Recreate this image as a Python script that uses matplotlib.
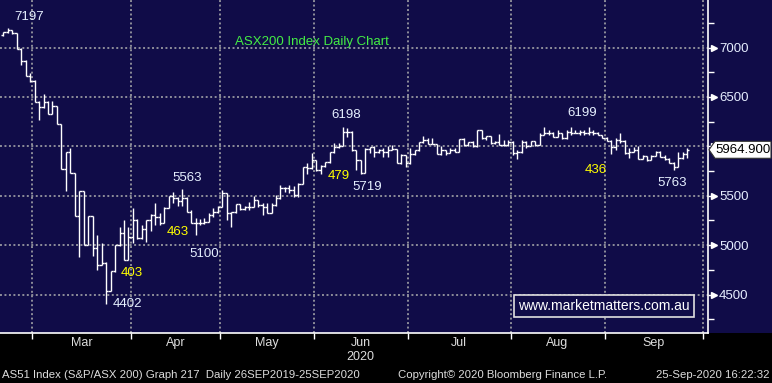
import matplotlib
matplotlib.use("Agg")
import matplotlib.pyplot as plt
from matplotlib.collections import LineCollection
from matplotlib.patches import Rectangle, Polygon
import matplotlib.transforms as mtransforms

# ASX200 daily bars, 20 Feb 2020 - 25 Sep 2020
opens = [7126, 7154, 7177, 7145, 6985, 6866, 6715, 6665, 6451, 6395,
         6451, 6330, 6408, 6226, 5767, 5940, 5727, 5295, 5545, 5001,
         5290, 4968, 4799, 4822, 4539, 4735, 4998, 5120, 4849, 5085,
         5254, 5069, 5160, 5250, 5300, 5288, 5227, 5379, 5497, 5474,
         5450, 5474, 5338, 5221, 5221, 5221, 5238, 5305, 5338, 5389,
         5524, 5322, 5338, 5413, 5370, 5389, 5389, 5457, 5406, 5389,
         5328, 5406, 5474, 5574, 5574, 5558, 5507, 5619, 5794, 5777,
         5862, 5760, 5800, 5844, 5940, 5996, 6003, 6148, 6148, 5963,
         5862, 5727, 5970, 5990, 5946, 5963, 5946, 5963, 5970, 5828,
         5912, 5828, 5920, 5960, 6047, 6063, 6023, 6023, 5925, 5963,
         5930, 5963, 5946, 6071, 6013, 6047, 6003, 6165, 6081, 6104,
         6030, 6047, 6013, 6013, 6047, 5929, 5946, 6047, 6003, 6054,
         6013, 6115, 6132, 6138, 6097, 6132, 6081, 6148, 6138, 6132,
         6148, 6132, 6148, 6132, 6115, 6087, 6054, 5990, 6064, 6050,
         5930, 5946, 5963, 5869, 5902, 5862, 5902, 5946, 5889, 5869,
         5835, 5790, 5880, 5920]
highs = [7160, 7197, 7180, 7150, 6990, 6870, 6745, 6670, 6455, 6529,
         6455, 6460, 6410, 6230, 5946, 5980, 5730, 5548, 5548, 5295,
         5295, 5100, 5017, 4825, 4738, 5001, 5187, 5254, 5187, 5375,
         5262, 5200, 5254, 5310, 5423, 5325, 5389, 5497, 5541, 5490,
         5563, 5490, 5355, 5270, 5265, 5272, 5328, 5373, 5396, 5558,
         5524, 5340, 5413, 5415, 5396, 5440, 5497, 5460, 5423, 5423,
         5423, 5507, 5609, 5591, 5609, 5600, 5626, 5794, 5834, 5929,
         5865, 5811, 5844, 5946, 6037, 6030, 6198, 6182, 6150, 5965,
         5865, 5980, 5996, 6006, 5970, 5980, 6003, 6013, 5975, 5920,
         5915, 5980, 5963, 6047, 6104, 6081, 6081, 6025, 6003, 5965,
         5980, 5987, 6071, 6081, 6047, 6050, 6165, 6168, 6104, 6106,
         6054, 6124, 6063, 6063, 6050, 5963, 6063, 6049, 6054, 6056,
         6132, 6192, 6165, 6140, 6165, 6134, 6165, 6199, 6165, 6165,
         6165, 6195, 6165, 6140, 6117, 6090, 6064, 6081, 6132, 6060,
         5980, 5990, 6003, 5912, 5904, 5912, 5956, 5956, 5912, 5879,
         5840, 5946, 5946, 5985]
lows = [7120, 7150, 7140, 6980, 6820, 6710, 6654, 6450, 6266, 6390,
        6324, 6325, 6226, 5767, 5548, 5727, 5295, 4883, 5001, 4998,
        4890, 4748, 4795, 4402, 4535, 4730, 4995, 4849, 4845, 5020,
        5060, 5065, 5035, 5140, 5200, 5200, 5220, 5375, 5430, 5400,
        5400, 5338, 5221, 5100, 5204, 5215, 5235, 5288, 5322, 5385,
        5254, 5180, 5322, 5355, 5355, 5355, 5385, 5389, 5305, 5328,
        5325, 5400, 5470, 5541, 5524, 5490, 5490, 5615, 5720, 5775,
        5750, 5720, 5795, 5828, 5935, 5980, 6000, 6097, 5956, 5760,
        5719, 5725, 5936, 5895, 5936, 5895, 5895, 5960, 5828, 5825,
        5787, 5825, 5915, 5955, 6030, 6023, 6020, 5925, 5912, 5912,
        5928, 5940, 5944, 6003, 6003, 5996, 5996, 6071, 6063, 6023,
        6028, 6013, 6003, 6006, 5912, 5870, 5929, 5980, 6000, 6003,
        6010, 6113, 6115, 6097, 6095, 6071, 6079, 6115, 6132, 6115,
        6115, 6115, 6115, 6115, 6087, 6054, 5922, 5963, 6030, 5922,
        5879, 5944, 5869, 5867, 5855, 5860, 5900, 5889, 5862, 5828,
        5763, 5788, 5869, 5879]
closes = [7154, 7177, 7145, 6985, 6866, 6715, 6665, 6451, 6395, 6451,
          6330, 6408, 6226, 5767, 5940, 5727, 5295, 5545, 5001, 5290,
          4968, 4799, 4822, 4539, 4735, 4998, 5120, 4849, 5085, 5254,
          5069, 5160, 5250, 5300, 5288, 5227, 5379, 5497, 5474, 5450,
          5474, 5338, 5221, 5221, 5221, 5238, 5305, 5338, 5389, 5524,
          5322, 5338, 5413, 5370, 5389, 5389, 5457, 5406, 5389, 5328,
          5406, 5474, 5574, 5574, 5558, 5507, 5619, 5794, 5777, 5862,
          5760, 5800, 5844, 5940, 5996, 6003, 6148, 6148, 5963, 5862,
          5727, 5970, 5990, 5946, 5963, 5946, 5963, 5970, 5828, 5912,
          5828, 5920, 5960, 6047, 6063, 6023, 6023, 5925, 5963, 5930,
          5963, 5946, 6071, 6013, 6047, 6003, 6165, 6081, 6104, 6030,
          6047, 6013, 6013, 6047, 5929, 5946, 6047, 6003, 6054, 6013,
          6115, 6132, 6138, 6097, 6132, 6081, 6148, 6138, 6132, 6148,
          6132, 6148, 6132, 6115, 6087, 6054, 5990, 6064, 6050, 5930,
          5946, 5963, 5869, 5902, 5862, 5902, 5946, 5889, 5869, 5835,
          5790, 5880, 5920, 5964.9]

# trading days per month shown: Feb (from the 20th), Mar .. Sep
month_names = ["Feb", "Mar", "Apr", "May", "Jun", "Jul", "Aug", "Sep"]
month_days = [7, 22, 20, 21, 21, 23, 21, 22]

price_levels = [4500, 5000, 5500, 6000, 6500, 7000]
price_labels = ["4500", "5000", "5500", "", "6500", "7000"]  # 6000 sits under the price tag
minor_levels = [4250, 4750, 5250, 5750, 6250, 6750, 7250]
last_price = 5964.9

# chart labels: text and pixel position (x, y) inside the plot
white_labels = [("7197", 29, 17), ("6198", 346, 115), ("5563", 187, 178),
                ("5719", 367, 187), ("5100", 204, 254), ("4402", 127, 304),
                ("6199", 582, 113), ("5763", 672, 183)]
yellow_labels = [("463", 178, 232), ("479", 339, 176), ("403", 132, 273),
                 ("436", 596, 170)]

NAVY = "#100c48"
W, H = 772, 383
AX_W, AX_H = 708, 333
LABEL_FONT = ["Liberation Sans", "DejaVu Sans"]
plt.rcParams["font.family"] = ["Liberation Sans Narrow", "Liberation Sans", "DejaVu Sans"]

fig = plt.figure(figsize=(W / 100, H / 100), dpi=100, facecolor=NAVY)
fig.patches.append(Rectangle((0, 0), 1, (H - AX_H) / H, transform=fig.transFigure,
                             facecolor="black", edgecolor="none", zorder=-1))
ax = fig.add_axes([0, (H - AX_H) / H, AX_W / W, AX_H / H])
ax.set_facecolor(NAVY)

# pixel -> data mapping used for limits
px_per_bar = 4.47
x0 = 3.3
ax.set_xlim(-x0 / px_per_bar, (AX_W - x0) / px_per_bar)
ax.set_ylim(7000 - (AX_H - 47.5) * 10.12, 7000 + 47.5 * 10.12)

# OHLC bars
segs = []
for i, (o, h, l, c) in enumerate(zip(opens, highs, lows, closes)):
    segs.append([(i, l), (i, h)])
    segs.append([(i - 0.5, o), (i, o)])
    segs.append([(i, c), (i + 0.5, c)])
ax.add_collection(LineCollection(segs, colors="white", linewidths=1.0,
                                 capstyle="butt", zorder=3))

# month boundaries and labels
bounds = []
total = 0
for d in month_days:
    total += d
    bounds.append(total - 0.5)
centers = [(bounds[k] + bounds[k + 1]) / 2 for k in range(len(bounds) - 1)]
ax.set_xticks(bounds, minor=True)
ax.set_xticks(centers)
ax.set_xticklabels(month_names[1:], color="#dcdcdc", fontsize=9)
ax.tick_params(axis="x", which="major", length=0, pad=3)
ax.tick_params(axis="x", which="minor", length=4, width=1, color="white",
               direction="out")

# right price axis
ax.yaxis.tick_right()
ax.set_yticks(price_levels)
ax.set_yticks(minor_levels, minor=True)
ax.set_yticklabels(price_labels, color="#e6eeff", fontsize=9.5, family=LABEL_FONT)
ax.tick_params(axis="y", which="major", length=4, width=1, color="white", pad=4)
ax.tick_params(axis="y", which="minor", length=4, width=1, color="white")
trans = mtransforms.blended_transform_factory(ax.transAxes, ax.transData)
ax.plot([1.008] * len(price_levels), price_levels, ">", color="white",
        markersize=4, transform=trans, clip_on=False, zorder=5)

for side in ["left", "top"]:
    ax.spines[side].set_visible(False)
for side in ["right", "bottom"]:
    ax.spines[side].set_color("white")
    ax.spines[side].set_linewidth(1.2)

dots = (0, (1, 1.3))
ax.grid(which="major", axis="y", color="#8e8e9a", linestyle=dots, linewidth=1.4)
ax.grid(which="minor", axis="x", color="#8e8e9a", linestyle=dots, linewidth=1.4)
ax.grid(which="major", axis="x", visible=False)


def ptext(px, py, s, **kw):
    ax.text(px / AX_W, 1 - py / AX_H, s, transform=ax.transAxes,
            ha="center", va="center", family=LABEL_FONT, **kw)


for s, px, py in white_labels:
    ptext(px, py, s, color="#e6f0ff", fontsize=9.5)
for s, px, py in yellow_labels:
    ptext(px, py, s, color="#ffff00", fontsize=9.5)
ptext(312, 42, "ASX200 Index Daily Chart", color="#44ee44", fontsize=9.5)
ptext(604, 306, "www.marketmatters.com.au", color="white", fontsize=10,
      bbox=dict(boxstyle="square,pad=0.28", facecolor=NAVY, edgecolor="#e0e0e0",
                linewidth=1.2))

# last price tag
ty = (7000 + 47.5 * 10.12 - last_price) / 10.12  # pixel row of last price
tag = [(709, H - ty), (715, H - ty + 8.5), (771, H - ty + 8.5),
       (771, H - ty - 8.5), (715, H - ty - 8.5)]
fig.patches.append(Polygon(tag, closed=True, transform=None, facecolor="white",
                           edgecolor="#303030", linewidth=0.8, zorder=6))
fig.text(743 / W, (H - ty) / H, f"{last_price:.3f}", color="black", fontsize=9.5,
         ha="center", va="center", family=LABEL_FONT, zorder=7)

# footer
fig.text(360 / W, 1 - 357 / H, "2020", color="#dcdcdc", fontsize=9, ha="center", va="center")
fig.text(2 / W, 1 - 375 / H, "AS51 Index (S&P/ASX 200) Graph 217  Daily 26SEP2019-25SEP2020",
         color="#dcdcdc", fontsize=8.2, ha="left", va="center")
fig.text(503 / W, 1 - 375 / H, "Copyright\u00a9 2020 Bloomberg Finance L.P.",
         color="#dcdcdc", fontsize=8.2, ha="center", va="center")
fig.text(770 / W, 1 - 375 / H, "25-Sep-2020 16:22:32",
         color="#dcdcdc", fontsize=8.2, ha="right", va="center")

fig.savefig("out.png", dpi=100, facecolor=NAVY)
